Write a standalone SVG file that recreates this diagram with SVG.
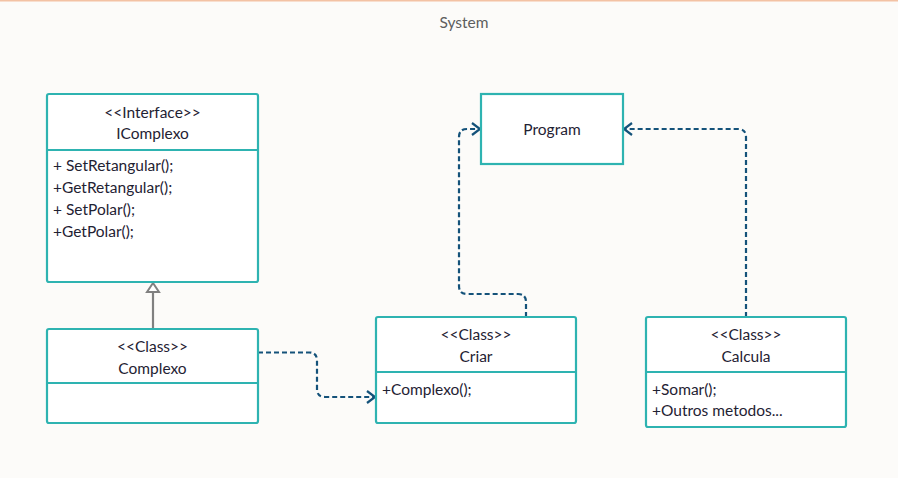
<svg xmlns="http://www.w3.org/2000/svg" width="898" height="478" viewBox="0 0 898 478">
<defs>
<style>
.box{fill:#ffffff;stroke:#2eb3b1;stroke-width:2.2}
.div{stroke:#2eb3b1;stroke-width:2.2}
text{font-family:Lato,"Open Sans","Liberation Sans",sans-serif;font-size:15.5px;fill:#1f2233}
.c{text-anchor:middle}
.con{fill:none;stroke:#14527a;stroke-width:2.2;stroke-dasharray:5,3}
</style>
<marker id="open" markerWidth="12" markerHeight="14" refX="10" refY="7" orient="auto" markerUnits="userSpaceOnUse">
<path d="M2,1 L10,7 L2,13" fill="none" stroke="#14527a" stroke-width="2.2"/>
</marker>
</defs>
<rect x="0" y="0" width="898" height="478" fill="#fcfbf9"/>
<rect x="0" y="0" width="898" height="1.5" fill="#f3c2a4"/>
<text x="464" y="28" class="c" style="fill:#5e5e5e">System</text>

<g id="connectors">
<path class="con" d="M258,352.5 H309 Q317,352.5 317,360.5 V389 Q317,397 325,397 H375" marker-end="url(#open)"/>
<path class="con" d="M526,317 V302 Q526,294 518,294 H467 Q459,294 459,286 V137 Q459,129 467,129 H480" marker-end="url(#open)"/>
<path class="con" d="M746,317 V137 Q746,129 738,129 H624" marker-end="url(#open)"/>
<g id="inherit">
<line x1="153" y1="329" x2="153" y2="292" stroke="#808080" stroke-width="2.2"/>
<path d="M147,292 L153,283 L159,292 Z" fill="#ffffff" stroke="#808080" stroke-width="2"/>
</g>
</g>

<g id="IComplexo">
<rect class="box" x="47" y="94" width="211" height="188" rx="2"/>
<line class="div" x1="47" y1="150" x2="258" y2="150"/>
<text x="152.5" y="118" class="c">&lt;&lt;Interface&gt;&gt;</text>
<text x="152.5" y="139" class="c">IComplexo</text>
<text x="53" y="171">+ SetRetangular();</text>
<text x="53" y="193">+GetRetangular();</text>
<text x="53" y="215">+ SetPolar();</text>
<text x="53" y="237">+GetPolar();</text>
</g>

<g id="Complexo">
<rect class="box" x="47" y="329" width="211" height="94" rx="2"/>
<line class="div" x1="47" y1="383" x2="258" y2="383"/>
<text x="152.5" y="352" class="c">&lt;&lt;Class&gt;&gt;</text>
<text x="152.5" y="374" class="c">Complexo</text>
</g>

<g id="Program">
<rect class="box" x="481" y="94" width="142" height="70"/>
<text x="552" y="135" class="c">Program</text>
</g>

<g id="Criar">
<rect class="box" x="376" y="317" width="200" height="106" rx="2"/>
<line class="div" x1="376" y1="372" x2="576" y2="372"/>
<text x="476" y="340" class="c">&lt;&lt;Class&gt;&gt;</text>
<text x="476" y="362" class="c">Criar</text>
<text x="382" y="395">+Complexo();</text>
</g>

<g id="Calcula">
<rect class="box" x="646" y="317" width="200" height="110" rx="2"/>
<line class="div" x1="646" y1="372" x2="846" y2="372"/>
<text x="746" y="340" class="c">&lt;&lt;Class&gt;&gt;</text>
<text x="746" y="362" class="c">Calcula</text>
<text x="652" y="395">+Somar();</text>
<text x="652" y="416">+Outros metodos...</text>
</g>
</svg>
